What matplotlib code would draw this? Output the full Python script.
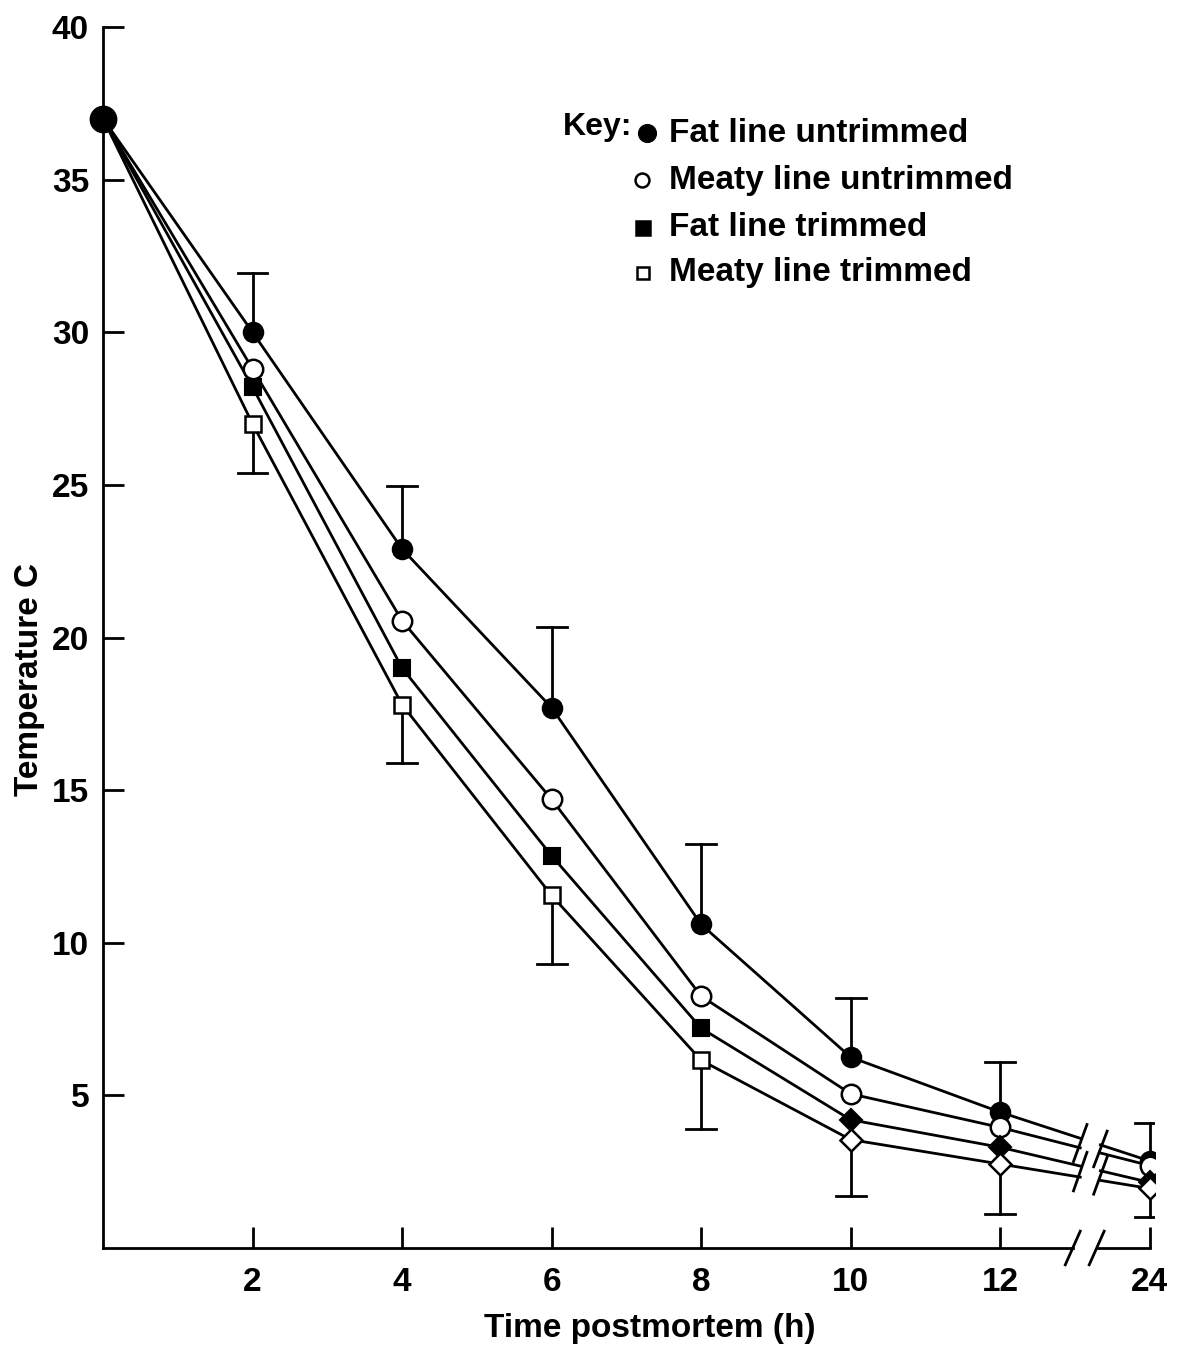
import numpy as np
from matplotlib import pyplot as plt

plt.rcParams['font.family'] = ['Liberation Sans', 'DejaVu Sans']
plt.rcParams['font.weight'] = 'bold'

# data (hours postmortem, temperature in C)
hours = [0, 2, 4, 6, 8, 10, 12, 24]
fat_untrim = [37.0, 30.0, 22.9, 17.7, 10.6, 6.25, 4.45, 2.85]
meaty_untrim = [37.0, 28.8, 20.55, 14.7, 8.25, 5.05, 3.95, 2.7]
fat_trim = [37.0, 28.2, 19.0, 12.85, 7.2, 4.2, 3.3, 2.15]
meaty_trim = [37.0, 27.0, 17.8, 11.55, 6.15, 3.55, 2.75, 1.95]
fat_untrim_err_top = [None, 31.95, 24.95, 20.35, 13.25, 8.2, 6.1, 4.1]
meaty_trim_err_low = [None, 25.4, 15.9, 9.3, 3.9, 1.7, 1.1, 1.0]

legend_labels = ["Fat line untrimmed", "Meaty line untrimmed",
                 "Fat line trimmed", "Meaty line trimmed"]

# broken x axis: 24 h drawn two units after 12 h
def xpos(h):
    return h if h <= 12 else 14

x = np.array([xpos(h) for h in hours], dtype=float)
gap_lo, gap_hi = 13.07, 13.34

fig = plt.figure(figsize=(11.91, 13.48), dpi=100)
ax = fig.add_axes([103/1191, 1-1248/1348, (1155-103)/1191, (1248-27)/1348])
ax.set_xlim(0, 14.07)
ax.set_ylim(0, 40)

lw = 2.0

def draw_series(y):
    y = np.array(y)
    # part up to the break, then the short bit to 24 h
    xs = np.append(x[:7], gap_lo)
    ys = np.append(y[:7], np.interp(gap_lo, x, y))
    ax.plot(xs, ys, color='black', lw=lw, zorder=2)
    ax.plot([gap_hi, x[7]], [np.interp(gap_hi, x, y), y[7]], color='black', lw=lw, zorder=2)

for s in [fat_untrim, meaty_untrim, fat_trim, meaty_trim]:
    draw_series(s)

# break slashes across line pairs
for pair in [(fat_untrim, meaty_untrim), (fat_trim, meaty_trim)]:
    for g in (gap_lo, gap_hi):
        ya = np.interp(g, x, pair[0])
        yb = np.interp(g, x, pair[1])
        ax.plot([g - 0.09, g + 0.09], [min(ya, yb) - 0.45, max(ya, yb) + 0.45],
                color='black', lw=lw, zorder=2)

# error bars (one side only)
for i in range(1, 8):
    ax.plot([x[i], x[i]], [fat_untrim[i], fat_untrim_err_top[i]], color='black', lw=lw, zorder=1)
    ax.plot([x[i]-0.2, x[i]+0.2], [fat_untrim_err_top[i]]*2, color='black', lw=lw)
    ax.plot([x[i], x[i]], [meaty_trim[i], meaty_trim_err_low[i]], color='black', lw=lw, zorder=1)
    ax.plot([x[i]-0.2, x[i]+0.2], [meaty_trim_err_low[i]]*2, color='black', lw=lw)

# markers
ax.plot(x[0], fat_untrim[0], 'o', ms=19, color='black', zorder=4, clip_on=False)
ax.plot(x[1:], fat_untrim[1:], 'o', ms=14, mfc='black', mec='black', mew=1.5, ls='none', zorder=4)
ax.plot(x[1:], meaty_untrim[1:], 'o', ms=14, mfc='white', mec='black', mew=1.8, ls='none', zorder=4)
ax.plot(x[1:5], fat_trim[1:5], 's', ms=12, mfc='black', mec='black', mew=1.5, ls='none', zorder=4)
ax.plot(x[1:5], meaty_trim[1:5], 's', ms=12, mfc='white', mec='black', mew=1.8, ls='none', zorder=4)
ax.plot(x[5:], fat_trim[5:], 'D', ms=11, mfc='black', mec='black', mew=1.5, ls='none', zorder=4)
ax.plot(x[5:], meaty_trim[5:], 'D', ms=11, mfc='white', mec='black', mew=1.8, ls='none', zorder=4)

# axes styling
for side in ['top', 'right', 'bottom']:
    ax.spines[side].set_visible(False)
ax.spines['left'].set_linewidth(lw)

# bottom axis drawn by hand, with the break
ax.plot([0, gap_lo - 0.1], [0, 0], color='black', lw=lw, clip_on=False)
ax.plot([gap_hi - 0.05, 14], [0, 0], color='black', lw=lw, clip_on=False)
for g in (gap_lo - 0.1, gap_hi - 0.05):
    ax.plot([g - 0.1, g + 0.1], [-0.55, 0.55], color='black', lw=lw, clip_on=False)

ax.set_xticks(x[1:])
ax.set_xticklabels([str(h) for h in hours[1:]], fontsize=24)
ax.set_yticks(range(5, 45, 5))
ax.set_yticklabels([str(v) for v in range(5, 45, 5)], fontsize=24)
ax.tick_params(axis='both', direction='in', length=15, width=lw, pad=10)
ax.tick_params(axis='x', pad=14)

fig.text(650/1191, 1-1328/1348, "Time postmortem (h)", fontsize=24, fontweight='bold',
         ha='center', va='center')
fig.text(30/1191, 1-680/1348, "Temperature C", fontsize=24, fontweight='bold',
         ha='center', va='center', rotation=90)

# key
fig.text(563/1191, 1-127/1348, "Key:", fontsize=23, va='center', ha='left')
key_y = [133, 180, 228, 273]
key_marker = [('o', 'black', 12), ('o', 'white', 10), ('s', 'black', 10), ('s', 'white', 9)]
key_mx = [647, 642, 643, 643]
for lab, yy, (m, fc, ms), mx in zip(legend_labels, key_y, key_marker, key_mx):
    fig.lines.append(plt.Line2D([mx/1191], [1-yy/1348], marker=m, ms=ms, mfc=fc, mec='black',
                                mew=1.8, ls='none', transform=fig.transFigure))
    fig.text(669/1191, 1-yy/1348, lab, fontsize=24, va='center', ha='left')

plt.savefig("out.png", dpi=100)
